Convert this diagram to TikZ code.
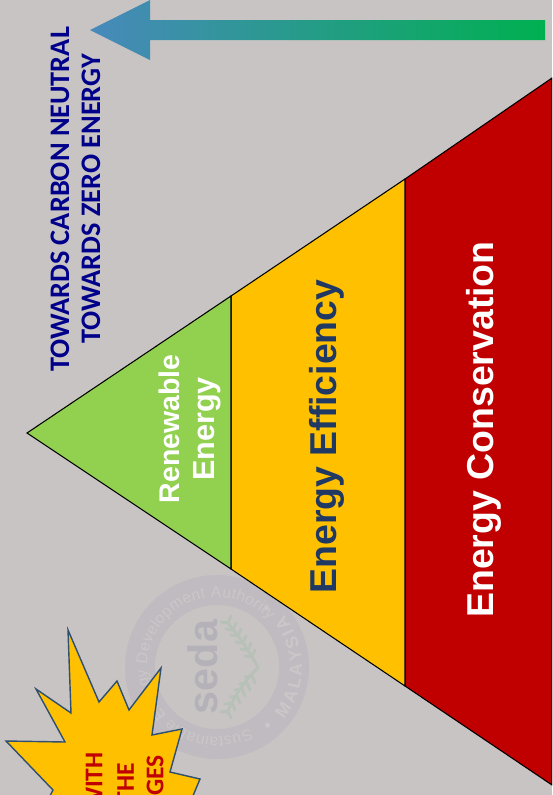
\documentclass[tikz,border=0pt]{standalone}
\usepackage{fontspec}
\setmainfont{Liberation Sans}
\newfontfamily\carlito{Carlito}
\usetikzlibrary{positioning,decorations.text}
\definecolor{slide}{HTML}{C8C4C3}
\definecolor{ringgrey}{HTML}{BFBBC0}
\definecolor{ringtext}{HTML}{CAC7C8}
\definecolor{sedagrey}{HTML}{B4B2B8}
\definecolor{leafgrey}{HTML}{B7C1B8}
\definecolor{towards}{HTML}{00008B}
\definecolor{tierred}{HTML}{C00000}
\definecolor{tieramber}{HTML}{FFC000}
\definecolor{tiergreen}{HTML}{92D050}
\definecolor{tiernavy}{HTML}{1F3864}
\definecolor{starline}{HTML}{2F4F6F}
\definecolor{arrowblue}{RGB}{72,137,188}
\definecolor{arrowgreen}{RGB}{0,176,80}
\tikzstyle{tier} = [draw=black,line width=0.6pt]
\tikzstyle{tierlabel} = [rotate=90,font=\bfseries,inner sep=0pt,align=center]
\tikzstyle{goal} = [rotate=90,font=\carlito\bfseries\fontsize{16.1}{18}\selectfont,text=towards,inner sep=0pt]
\tikzstyle{burst} = [rotate=90,font=\carlito\bfseries\fontsize{14.5}{16}\selectfont,text=tierred,inner sep=0pt,anchor=east]
\tikzstyle{leaf} = [leafgrey,line width=1.6pt,line cap=round]
\begin{document}
\begin{tikzpicture}[x=0.02cm,y=-0.02cm]
      \useasboundingbox (0,0) rectangle (552,795);
      \clip (0,0) rectangle (552,795);
      \fill[slide] (0,0) rectangle (552,795);
      % watermark
      \coordinate (w) at (217,667);
      \draw[ringgrey,line width=17pt] (w) circle (77);
      \path[postaction={decorate,decoration={text along path,text align={fit to path},
            text={|\fontsize{9}{10}\selectfont\color{ringtext}|Sustainable Energy Development Authority}}}]
            (w) ++(62:70) arc (62:318:70);
      \path[postaction={decorate,decoration={text along path,text align={fit to path},
            text={|\fontsize{10}{10}\selectfont\bfseries\color{ringtext}|MALAYSIA}}}]
            (w) ++(38:85) arc (38:-38:85);
      \fill[ringtext] (w) ++(49:77) circle (2.5);
      \fill[ringtext] (w) ++(-50:77) circle (2.5);
      \node[rotate=90,font=\bfseries\fontsize{23.5}{24}\selectfont,text=sedagrey] (seda) at (203,667) {seda};
      \draw[leaf] (258,667) .. controls (248,650) and (240,637) .. (227,622);
      \draw[leaf] (258,668) .. controls (245,680) and (235,695) .. (227,713);
      \foreach \x/\y in {228/623,233/630,238/636,243/643,248/650,252/657}
        \draw[leaf] (\x,\y) -- +(-7,-1) (\x,\y) -- +(3,-7);
      \foreach \x/\y in {228/711,232/703,237/696,242/689,247/683,252/676}
        \draw[leaf] (\x,\y) -- +(-7,1) (\x,\y) -- +(3,7);
      % arrow
      \shade[left color=arrowblue,right color=arrowgreen]
             (90,30) -- (150,0) -- (150,20) -- (545,20) -- (545,40) -- (150,40) -- (150,60) -- cycle;
      \node[goal] (carbon) at (60,199.5) {TOWARDS CARBON NEUTRAL};
      \node[goal] (zero) at (91,199) {TOWARDS ZERO ENERGY};
      % pyramid
      \coordinate (apex) at (27,433);
      \coordinate (gt) at (231,296);
      \coordinate (gb) at (231,569);
      \coordinate (at) at (405,179);
      \coordinate (ab) at (405,686);
      \coordinate (rt) at (552,78);
      \coordinate (rb) at (552,785);
      \draw[tier,fill=tierred] (at) -- (rt) -- (rb) -- (ab) -- cycle;
      \draw[tier,fill=tieramber] (gt) -- (at) -- (ab) -- (gb) -- cycle;
      \draw[tier,fill=tiergreen] (apex) -- (gt) -- (gb) -- cycle;
      \node[tierlabel,text=white,font=\bfseries\fontsize{16.2}{20}\selectfont] (renew) at (190,429) {Renewable\\\fontsize{17.4}{20}\selectfont Energy};
      \node[tierlabel,text=tiernavy,font=\bfseries\fontsize{21.3}{24}\selectfont] (effic) at (326.5,436.5) {Energy Efficiency};
      \node[tierlabel,text=white,font=\bfseries\fontsize{21.3}{24}\selectfont] (conserv) at (484,429.5) {Energy Conservation};
      % burst
      \draw[draw=starline,fill=tieramber,line width=0.8pt]
            (68,630) -- (99,702) -- (117,681) -- (129,710) -- (161,668) -- (152,735) -- (182,729)
            -- (170,772) -- (200,779) -- (185,815) -- (40,815) -- (53,790) -- (6,741) -- (65,742)
            -- (36,689) -- (71,713) -- cycle;
      \node[burst] (with) at (94,752) {WITH};
      \node[burst] (the) at (125.5,763) {THE};
      \node[burst] (ges) at (155,755) {GES};
    \end{tikzpicture}
\end{document}
